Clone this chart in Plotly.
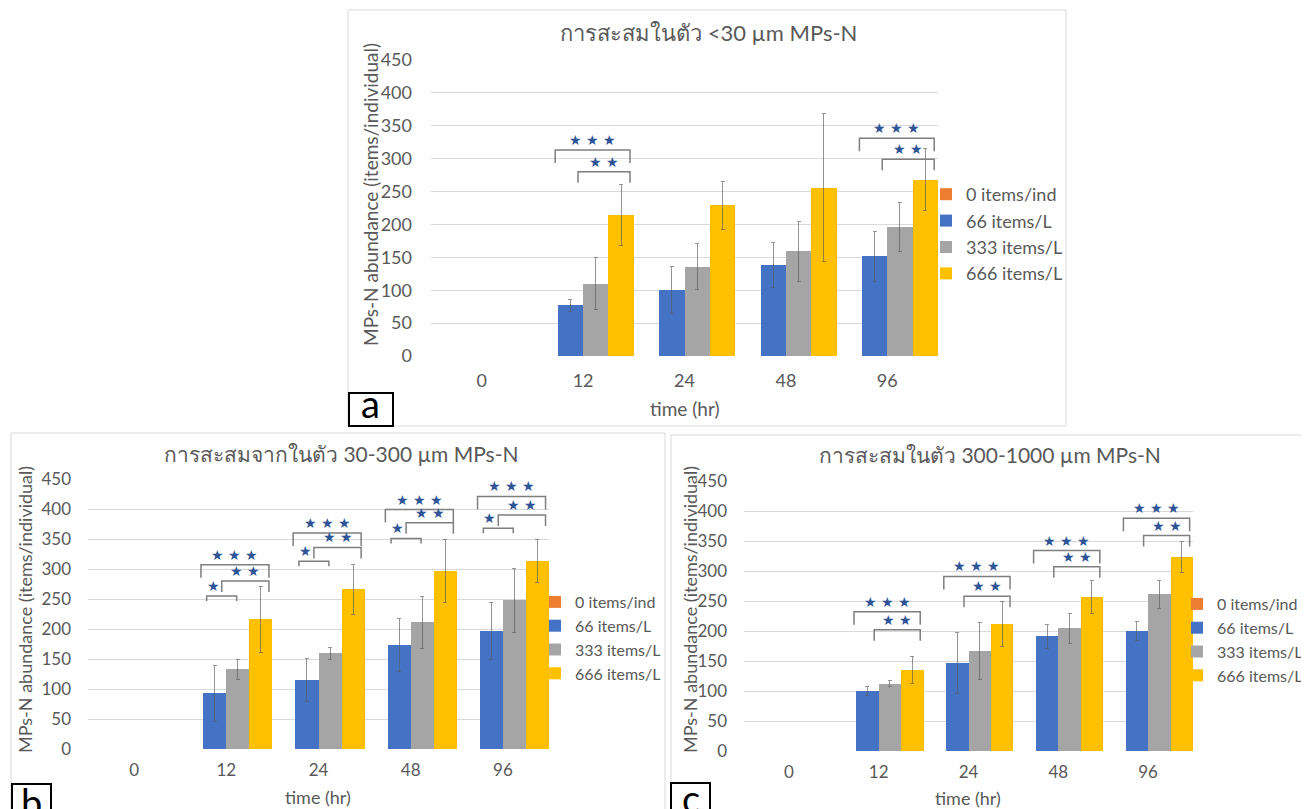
import plotly.graph_objects as go

# ---------------- data ----------------
times = ["0", "12", "24", "48", "96"]
series_names = ["0 items/ind", "66 items/L", "333 items/L", "666 items/L"]

# panel a : <30 um
a_ctrl = [0, 0, 0, 0, 0]
a_66 = [0, 77, 100, 138, 152]
a_333 = [0, 110, 136, 159, 196]
a_666 = [0, 214, 229, 256, 268]
a_66_err = [0, 9, 36, 34, 38]
a_333_err = [0, 40, 35, 45, 37]
a_666_err = [0, 46, 36, 113, 47]

# panel b : 30-300 um
b_ctrl = [0, 0, 0, 0, 0]
b_66 = [0, 93, 115, 174, 197]
b_333 = [0, 133, 160, 211, 248]
b_666 = [0, 216, 266, 297, 314]
b_66_err = [0, 47, 36, 44, 48]
b_333_err = [0, 17, 10, 44, 53]
b_666_err = [0, 55, 41, 53, 36]

# panel c : 300-1000 um
c_ctrl = [0, 0, 0, 0, 0]
c_66 = [0, 100, 147, 191, 200]
c_333 = [0, 112, 167, 205, 261]
c_666 = [0, 135, 212, 257, 323]
c_66_err = [0, 8, 51, 20, 16]
c_333_err = [0, 5, 47, 25, 24]
c_666_err = [0, 23, 37, 27, 26]

# significance brackets: (category index, label, level)
a_sig = [(1, "***", 313), (1, "**", 280), (4, "***", 331), (4, "**", 299)]
b_sig = [(1, "***", 307), (1, "**", 280), (1, "*", 255),
         (2, "***", 360), (2, "**", 336), (2, "*", 313),
         (3, "***", 399), (3, "**", 377), (3, "*", 351),
         (4, "***", 421), (4, "**", 390), (4, "*", 368)]
c_sig = [(1, "***", 232), (1, "**", 202), (2, "***", 291), (2, "**", 258),
         (3, "***", 334), (3, "**", 307), (4, "***", 388), (4, "**", 359)]

titles = ["การสะสมในตัว <30 µm MPs-N",
          "การสะสมจากในตัว 30-300 µm MPs-N",
          "การสะสมในตัว 300-1000 µm MPs-N"]

# ---------------- styles ----------------
OFF = 8                 # page body margin
W, H = 1309 - OFF, 809 - OFF
colors = ["#ED7D31", "#4472C4", "#A5A5A5", "#FFC000"]
txt = "#595959"
grid = "#D9D9D9"
FONT = "Lato, 'Noto Sans', 'DejaVu Sans', sans-serif"


def px_x(p):
    return (p - OFF) / W


def px_y(p):
    return 1 - (p - OFF) / H


panels = [
    dict(key="a", xa="x", ya="y", leg="legend",
         xdom=(431, 938), ydom=(356, 60),
         vals=[a_ctrl, a_66, a_333, a_666],
         errs=[None, a_66_err, a_333_err, a_666_err],
         sig=a_sig, title=titles[0], title_xy=(708, 33), title_size=22,
         ytitle_xy=(370, 195), xtitle_xy=(685, 408), axt_size=19,
         legend_xy=(926, 176), legfont=18, leggap=2,
         box=(348, 10, 1066, 426), lab=(349, 393, 393, 426), lab_y=403,
         tickfont=18, xstand=12, ystand=18),
    dict(key="b", xa="x2", ya="y2", leg="legend2",
         xdom=(88, 549), ydom=(749, 479),
         vals=[b_ctrl, b_66, b_333, b_666],
         errs=[None, b_66_err, b_333_err, b_666_err],
         sig=b_sig, title=titles[1], title_xy=(341, 453), title_size=21,
         ytitle_xy=(25, 610), xtitle_xy=(318, 797), axt_size=18,
         legend_xy=(535, 585), legfont=16, leggap=1,
         box=(11, 433, 665, 830), lab=(12, 784, 51, 830), lab_y=802,
         tickfont=17, xstand=9, ystand=16),
    dict(key="c", xa="x3", ya="y3", leg="legend3",
         xdom=(744, 1193), ydom=(751, 481),
         vals=[c_ctrl, c_66, c_333, c_666],
         errs=[None, c_66_err, c_333_err, c_666_err],
         sig=c_sig, title=titles[2], title_xy=(990, 454), title_size=21,
         ytitle_xy=(690, 610), xtitle_xy=(968, 798), axt_size=18,
         legend_xy=(1177, 587), legfont=16, leggap=1,
         box=(671, 435, 1305, 830), lab=(671, 783, 710, 830), lab_y=798,
         tickfont=17, xstand=9, ystand=16),
]

# bracket geometry in bar widths relative to the category centre
sig_geom = {"***": (-1.1, 1.85, 13, "★ ★ ★", 0.5),
            "**": (-0.2, 1.85, 11, "★ ★", 0.5),
            "*": (-0.85, 0.45, 5, "★", 0.22)}
BW = 0.25  # 4 bars fill one category slot

fig = go.Figure()
shapes = []
annotations = []
layout = {}

for p in panels:
    for i, name in enumerate(series_names):
        err = p["errs"][i]
        fig.add_trace(go.Bar(
            x=times, y=p["vals"][i], name=name,
            marker=dict(color=colors[i], line=dict(width=0)),
            xaxis=p["xa"], yaxis=p["ya"], legend=p["leg"],
            legendgroup=p["key"] + str(i),
            error_y=(dict(type="data", array=err, color="rgba(90,90,90,0.65)",
                          thickness=1, width=2) if err is not None else None),
        ))
    axn = p["xa"].replace("x", "xaxis")
    ayn = p["ya"].replace("y", "yaxis")
    layout[axn] = dict(domain=[px_x(p["xdom"][0]), px_x(p["xdom"][1])],
                       anchor=p["ya"], type="category", showgrid=False,
                       showline=False, ticks="", zeroline=False, automargin=False,
                       tickfont=dict(size=p["tickfont"], color=txt, family=FONT),
                       ticklabelstandoff=p["xstand"], fixedrange=True)
    layout[ayn] = dict(domain=[px_y(p["ydom"][0]), px_y(p["ydom"][1])],
                       anchor=p["xa"], range=[0, 450], dtick=50,
                       showgrid=True, gridcolor=grid, gridwidth=1,
                       zeroline=False, showline=False, ticks="", automargin=False,
                       tickfont=dict(size=p["tickfont"], color=txt, family=FONT),
                       ticklabelstandoff=p["ystand"], fixedrange=True)
    layout[p["leg"]] = dict(x=px_x(p["legend_xy"][0]), y=px_y(p["legend_xy"][1]),
                            xanchor="left", yanchor="top",
                            font=dict(size=p["legfont"], color=txt, family=FONT),
                            bgcolor="rgba(0,0,0,0)", tracegroupgap=p["leggap"],
                            traceorder="normal")

    # panel frame
    bx = p["box"]
    shapes.append(dict(type="rect", xref="paper", yref="paper",
                       x0=px_x(bx[0]), x1=px_x(bx[2]), y0=px_y(bx[3]), y1=px_y(bx[1]),
                       line=dict(color=grid, width=1), fillcolor="rgba(0,0,0,0)",
                       layer="below"))
    # panel letter box
    lb = p["lab"]
    shapes.append(dict(type="rect", xref="paper", yref="paper",
                       x0=px_x(lb[0]), x1=px_x(lb[2]), y0=px_y(lb[3]), y1=px_y(lb[1]),
                       line=dict(color="black", width=2), fillcolor="white"))
    annotations.append(dict(text=p["key"], xref="paper", yref="paper",
                            x=px_x((lb[0] + lb[2]) / 2), y=px_y(p["lab_y"]),
                            xanchor="center", yanchor="middle", showarrow=False,
                            font=dict(size=38, color="black", family=FONT)))

    # titles
    annotations.append(dict(text=p["title"], xref="paper", yref="paper",
                            x=px_x(p["title_xy"][0]), y=px_y(p["title_xy"][1]),
                            xanchor="center", yanchor="middle", showarrow=False,
                            font=dict(size=p["title_size"], color=txt, family=FONT)))
    annotations.append(dict(text="MPs-N abundance (items/individual)",
                            xref="paper", yref="paper", textangle=-90,
                            x=px_x(p["ytitle_xy"][0]), y=px_y(p["ytitle_xy"][1]),
                            xanchor="center", yanchor="middle", showarrow=False,
                            font=dict(size=p["axt_size"], color=txt, family=FONT)))
    annotations.append(dict(text="time (hr)", xref="paper", yref="paper",
                            x=px_x(p["xtitle_xy"][0]), y=px_y(p["xtitle_xy"][1]),
                            xanchor="center", yanchor="middle", showarrow=False,
                            font=dict(size=p["axt_size"], color=txt, family=FONT)))

    # significance brackets
    unit_px = (p["ydom"][0] - p["ydom"][1]) / 450.0
    for ci, lab, lvl in p["sig"]:
        lo, hi, depth_px, stars, frac = sig_geom[lab]
        x0 = ci + lo * BW
        x1 = ci + hi * BW
        d = depth_px / unit_px
        shapes.append(dict(type="path", xref=p["xa"], yref=p["ya"],
                           path=f"M{x0},{lvl - d} L{x0},{lvl} L{x1},{lvl} L{x1},{lvl - d}",
                           line=dict(color="#7F7F7F", width=1.5)))
        annotations.append(dict(text=stars, xref=p["xa"], yref=p["ya"],
                                x=x0 + (x1 - x0) * frac, y=lvl, yshift=10,
                                xanchor="center", yanchor="middle", showarrow=False,
                                borderpad=0,
                                font=dict(size=14, color="#2F5597", family="DejaVu Sans")))

fig.update_layout(
    width=W, height=H,
    margin=dict(l=0, r=0, t=0, b=0, autoexpand=False),
    paper_bgcolor="white", plot_bgcolor="white",
    barmode="group", bargap=0, bargroupgap=0,
    showlegend=True,
    font=dict(family=FONT, color=txt),
    shapes=shapes, annotations=annotations,
    **layout,
)

fig.write_html("out.html")
